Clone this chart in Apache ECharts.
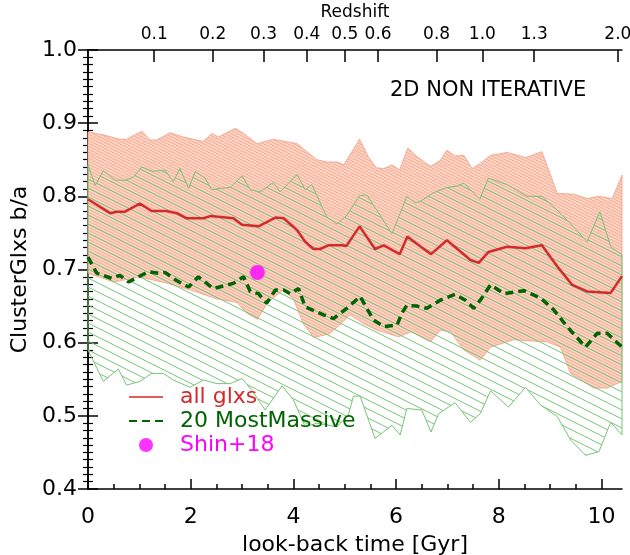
<!DOCTYPE html>
<html>
<head>
<meta charset="utf-8">
<script src="https://cdn.jsdelivr.net/npm/echarts@6/dist/echarts.min.js"></script>
<style>
html,body{margin:0;padding:0;background:#fff}
#chart{width:630px;height:555px}
</style>
</head>
<body>
<div id="chart"></div>
<script>
// Median axis ratio of all cluster galaxies vs look-back time [Gyr]
const allT = [0,0.43,0.56,0.72,1.01,1.24,1.53,1.73,1.92,2.25,2.38,2.83,3.0,3.32,3.65,3.81,4.07,4.23,4.39,4.52,4.68,4.95,5.03,5.29,5.59,5.76,6.07,6.22,6.41,6.68,6.99,7.45,7.61,7.80,8.16,8.52,8.84,9.14,9.43,9.72,10.18,10.4];
const allV = [0.796,0.777,0.779,0.779,0.790,0.780,0.780,0.777,0.770,0.770,0.773,0.770,0.761,0.759,0.771,0.770,0.754,0.738,0.728,0.728,0.733,0.733,0.732,0.759,0.728,0.733,0.721,0.745,0.735,0.721,0.740,0.713,0.709,0.724,0.731,0.729,0.733,0.704,0.679,0.670,0.668,0.691];

// Median axis ratio of the 20 most massive galaxies
const massT = [0,0.17,0.46,0.62,0.79,1.18,1.37,1.5,1.70,1.96,2.15,2.44,2.83,3.03,3.16,3.32,3.48,3.65,3.81,3.94,4.10,4.23,4.59,4.78,5.04,5.30,5.56,5.76,6.02,6.11,6.21,6.41,6.60,6.86,7.15,7.35,7.51,7.64,7.84,8.10,8.49,8.81,9.07,9.33,9.69,9.92,10.11,10.4];
const massV = [0.717,0.695,0.688,0.692,0.683,0.697,0.695,0.696,0.686,0.676,0.690,0.674,0.681,0.690,0.670,0.667,0.654,0.672,0.672,0.667,0.674,0.649,0.638,0.633,0.647,0.663,0.631,0.622,0.624,0.640,0.651,0.650,0.647,0.658,0.666,0.658,0.647,0.658,0.679,0.667,0.671,0.661,0.645,0.622,0.594,0.613,0.613,0.594];

// Scatter band of all galaxies (upper and lower edges)
const allUpT = [0,0.30,0.62,0.75,1.05,1.21,1.34,1.6,1.86,2.12,2.25,2.41,2.54,2.87,3.03,3.29,3.61,4.07,4.46,4.65,4.85,4.98,5.29,5.46,5.61,5.76,5.92,6.07,6.23,6.41,6.67,6.86,6.99,7.15,7.32,7.48,7.64,7.84,8.16,8.52,8.84,9.14,9.46,9.72,9.95,10.21,10.4];
const allUpV = [0.888,0.884,0.878,0.878,0.889,0.877,0.877,0.887,0.881,0.877,0.875,0.886,0.881,0.893,0.886,0.872,0.878,0.872,0.850,0.847,0.847,0.843,0.878,0.854,0.839,0.838,0.843,0.836,0.866,0.854,0.841,0.849,0.863,0.855,0.856,0.838,0.845,0.856,0.860,0.853,0.861,0.804,0.803,0.797,0.800,0.797,0.829];
const allLoT = [0,0.5,1.0,1.5,2.0,2.5,2.9,3.1,3.3,3.5,3.8,4.0,4.2,4.4,4.7,4.9,5.1,5.4,5.63,6.05,6.3,6.67,6.86,7.06,7.32,7.64,7.84,8.29,8.94,9.2,9.4,9.85,10.11,10.4];
const allLoV = [0.695,0.683,0.690,0.682,0.672,0.660,0.655,0.640,0.632,0.655,0.672,0.660,0.625,0.607,0.612,0.624,0.638,0.625,0.617,0.608,0.615,0.601,0.617,0.615,0.590,0.576,0.594,0.604,0.601,0.594,0.558,0.538,0.538,0.547];

// Scatter band of the 20 most massive galaxies
const massUpT = [0,0.14,0.30,0.53,0.72,0.88,1.05,1.27,1.5,1.66,1.79,1.96,2.09,2.28,2.41,2.57,2.77,3.0,3.16,3.35,3.61,3.74,4.07,4.23,4.36,4.65,4.85,5.04,5.29,5.43,5.92,6.21,6.37,6.47,6.73,6.99,7.19,7.32,7.63,7.80,8.16,8.55,8.84,9.14,9.46,9.72,9.97,10.18,10.4];
const massUpV = [0.843,0.815,0.835,0.822,0.822,0.826,0.840,0.834,0.836,0.820,0.838,0.811,0.834,0.825,0.809,0.811,0.812,0.828,0.809,0.806,0.819,0.806,0.830,0.809,0.816,0.772,0.762,0.774,0.801,0.802,0.749,0.800,0.791,0.793,0.805,0.812,0.814,0.818,0.796,0.825,0.816,0.800,0.800,0.781,0.758,0.738,0.779,0.731,0.720];
const massLoT = [0,0.30,0.59,0.75,1.01,1.24,1.47,1.66,1.99,2.25,2.51,2.77,3.0,3.19,3.45,3.78,4.0,4.23,4.46,4.85,5.07,5.17,5.30,5.59,5.92,6.08,6.21,6.5,6.68,6.83,7.15,7.45,7.64,7.84,8.19,8.52,8.81,9.14,9.40,9.69,9.95,10.18,10.4];
const massLoV = [0.590,0.547,0.564,0.542,0.547,0.558,0.558,0.549,0.539,0.549,0.544,0.544,0.551,0.535,0.508,0.541,0.522,0.485,0.490,0.485,0.501,0.527,0.527,0.469,0.487,0.474,0.510,0.508,0.478,0.503,0.518,0.491,0.503,0.534,0.512,0.539,0.515,0.499,0.467,0.446,0.451,0.491,0.474];

// Observational point (Shin+18)
const shinT = [3.30];
const shinV = [0.696];

// Axis ticks
const xMajorTicks = [0, 2, 4, 6, 8, 10];
const xMinorTicks = [0.5, 1, 1.5, 2.5, 3, 3.5, 4.5, 5, 5.5, 6.5, 7, 7.5, 8.5, 9, 9.5];
const zLabels = ['0.1', '0.2', '0.3', '0.4', '0.5', '0.6', '0.8', '1.0', '1.3', '2.0'];
const zTimes = [1.29, 2.43, 3.42, 4.26, 5.00, 5.65, 6.79, 7.68, 8.69, 10.32];

const FONT = 'DejaVu Sans';

// Hatch tile: parallel lines falling to the right, vertical spacing h
function hatch(w, h, color, lw, bg) {
  const c = document.createElement('canvas');
  c.width = w; c.height = h;
  const g = c.getContext('2d');
  if (bg) { g.fillStyle = bg; g.fillRect(0, 0, w, h); }
  g.strokeStyle = color; g.lineWidth = lw;
  for (let k = -1; k <= 1; k++) {
    g.beginPath(); g.moveTo(0, k * h); g.lineTo(w, (k + 1) * h); g.stroke();
  }
  return c;
}
const orangeFill = { image: hatch(6, 3, 'rgba(240,140,110,0.6)', 1, 'rgb(251,214,198)'), repeat: 'repeat' };
const greenFill = { image: hatch(18, 9, 'rgb(120,195,120)', 1, null), repeat: 'repeat' };

function band(name, upT, upV, loT, loV, fill, stroke, z) {
  return {
    type: 'custom', name: name, z: z, silent: true,
    data: [[0, 0.5]],
    renderItem: function (params, api) {
      const pts = [];
      for (let i = 0; i < upT.length; i++) pts.push(api.coord([upT[i], upV[i]]));
      for (let i = loT.length - 1; i >= 0; i--) pts.push(api.coord([loT[i], loV[i]]));
      return { type: 'polygon', shape: { points: pts }, style: { fill: fill, stroke: stroke, lineWidth: 1 } };
    }
  };
}
const pairs = (t, v) => t.map((x, i) => [x, v[i]]);

const axisBlack = { color: '#000', width: 1.5 };
function nearestZ(v) {
  let best = 0;
  for (let i = 1; i < zTimes.length; i++) if (Math.abs(zTimes[i] - v) < Math.abs(zTimes[best] - v)) best = i;
  return zLabels[best];
}

const chart = echarts.init(document.getElementById('chart'), null, { renderer: 'canvas' });
chart.setOption({
  animation: false,
  backgroundColor: '#fff',
  grid: { left: 88, right: 8, top: 50, bottom: 66, containLabel: false, outerBoundsMode: 'none' },
  xAxis: [
    {
      type: 'value', position: 'bottom', min: 0, max: 10.4,
      axisLine: { show: true, lineStyle: axisBlack },
      axisTick: { show: true, inside: true, length: 10, customValues: xMajorTicks, lineStyle: axisBlack },
      axisLabel: { customValues: xMajorTicks, fontFamily: FONT, fontSize: 22, color: '#000', margin: 17 },
      splitLine: { show: false },
      name: 'look-back time [Gyr]', nameLocation: 'middle', nameGap: 45,
      nameTextStyle: { fontFamily: FONT, fontSize: 22, color: '#000' }
    },
    {
      type: 'value', position: 'bottom', min: 0, max: 10.4,
      axisLine: { show: false },
      axisTick: { show: true, inside: true, length: 5, customValues: xMinorTicks, lineStyle: axisBlack },
      axisLabel: { show: false },
      splitLine: { show: false }
    },
    {
      type: 'value', position: 'top', min: 0, max: 10.4,
      axisLine: { show: true, lineStyle: axisBlack },
      axisTick: { show: true, inside: true, length: 12, customValues: zTimes, lineStyle: axisBlack },
      axisLabel: { customValues: zTimes, fontFamily: FONT, fontSize: 17, color: '#000', margin: 7, formatter: nearestZ },
      splitLine: { show: false },
      name: 'Redshift', nameLocation: 'middle', nameGap: 23,
      nameTextStyle: { fontFamily: FONT, fontSize: 17, color: '#000' }
    }
  ],
  yAxis: [
    {
      type: 'value', position: 'left', min: 0.4, max: 1.0, interval: 0.1,
      axisLine: { show: true, lineStyle: axisBlack },
      axisTick: { show: true, inside: true, length: 10, lineStyle: axisBlack },
      minorTick: { show: true, splitNumber: 10, length: 5, lineStyle: { color: '#000', width: 1.2 } },
      axisLabel: { fontFamily: FONT, fontSize: 22, color: '#000', margin: 11, formatter: v => v.toFixed(1) },
      splitLine: { show: false }, minorSplitLine: { show: false },
      name: 'ClusterGlxs b/a', nameLocation: 'middle', nameGap: 57,
      nameTextStyle: { fontFamily: FONT, fontSize: 22, color: '#000' }
    },
    {
      type: 'value', position: 'right', min: 0.4, max: 1.0, interval: 0.1,
      axisLine: { show: true, lineStyle: axisBlack },
      axisTick: { show: true, inside: true, length: 10, lineStyle: axisBlack },
      minorTick: { show: true, splitNumber: 10, length: 5, lineStyle: { color: '#000', width: 1.2 } },
      axisLabel: { show: false },
      splitLine: { show: false }, minorSplitLine: { show: false }
    }
  ],
  legend: {
    orient: 'vertical', left: 123, top: 381, itemWidth: 34, itemHeight: 14, itemGap: 2,
    selectedMode: false,
    textStyle: { fontFamily: FONT, fontSize: 22, padding: [0, 0, 0, 12] },
    data: [
      { name: 'all glxs', textStyle: { color: '#d42a2a' }, lineStyle: { width: 1.5 }, itemStyle: { opacity: 0 } },
      { name: '20 MostMassive', textStyle: { color: '#006400' }, lineStyle: { width: 2 }, itemStyle: { opacity: 0 } },
      { name: 'Shin+18', icon: 'circle', textStyle: { color: '#ff00ff' } }
    ]
  },
  graphic: [
    { type: 'text', left: 390, top: 80, style: { text: '2D NON ITERATIVE', font: '21px "' + FONT + '"', fill: '#000' } }
  ],
  series: [
    band('all band', allUpT, allUpV, allLoT, allLoV, orangeFill, 'rgba(245,165,140,0.9)', 1),
    band('massive band', massUpT, massUpV, massLoT, massLoV, greenFill, 'rgb(120,195,120)', 2),
    {
      name: 'all glxs', type: 'line', data: pairs(allT, allV), symbol: 'none', z: 5,
      lineStyle: { color: '#d42a2a', width: 2.5 }, itemStyle: { color: '#d42a2a' }
    },
    {
      name: '20 MostMassive', type: 'line', data: pairs(massT, massV), symbol: 'none', z: 5,
      lineStyle: { color: '#006400', width: 3.5, type: [8, 5] }, itemStyle: { color: '#006400' }
    },
    {
      name: 'Shin+18', type: 'scatter', data: pairs(shinT, shinV), symbol: 'circle', symbolSize: 15, z: 6,
      itemStyle: { color: '#ff00ff' }
    }
  ]
});
</script>
</body>
</html>
